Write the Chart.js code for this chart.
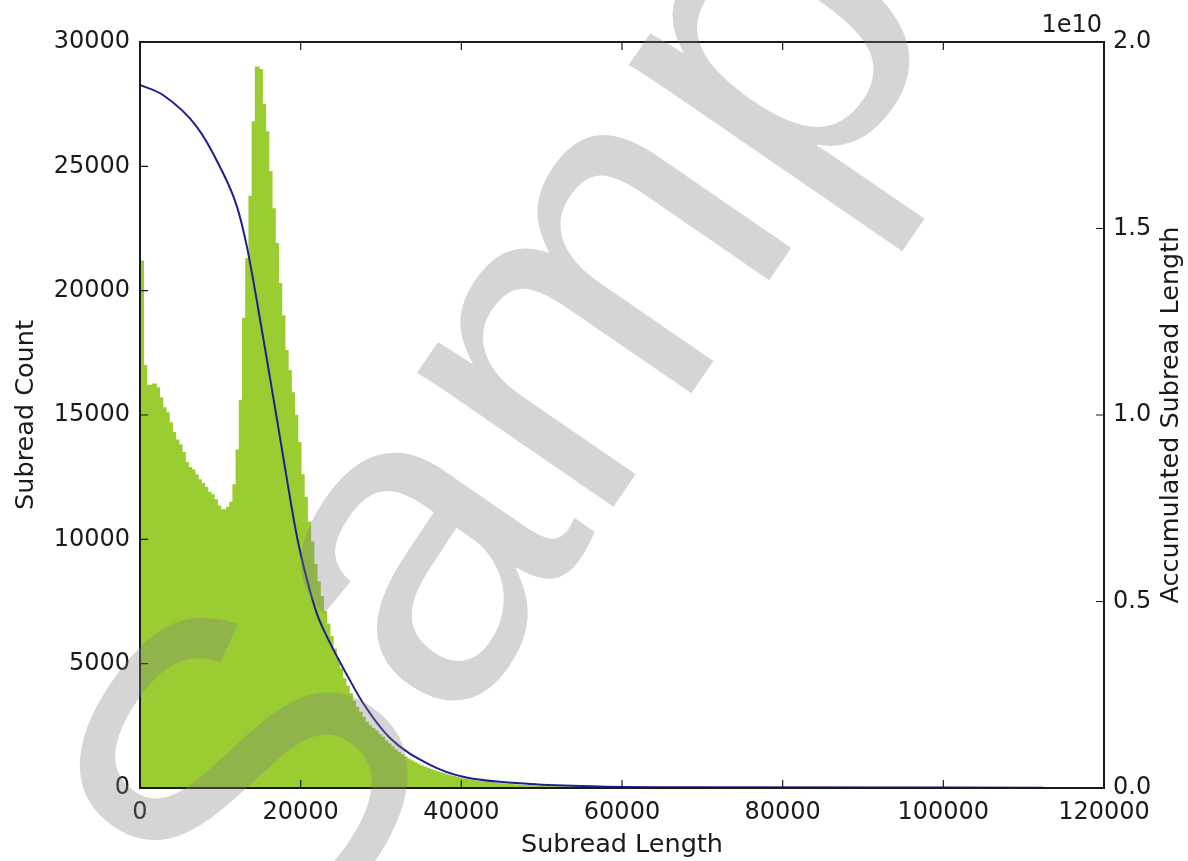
<!DOCTYPE html>
<html>
<head>
<meta charset="utf-8">
<script src="https://cdn.jsdelivr.net/npm/chart.js@4.4.0/dist/chart.umd.min.js"></script>
<style>
  html, body { margin: 0; padding: 0; background: #fff; }
  #wrap { width: 1188px; height: 861px; }
</style>
</head>
<body>
<div id="wrap"><canvas id="chart" width="1188" height="861"></canvas></div>
<script>
// histogram bins are 400 wide, starting at 0
const binWidth = 400;
const subreadCounts = [
  21200, 17000, 16200, 16200, 16250, 16100, 15700, 15300, 15100, 14700,
  14300, 14000, 13800, 13500, 13100, 12900, 12800, 12600, 12400, 12250,
  12100, 11900, 11800, 11600, 11350, 11200, 11200, 11300, 11500, 12200,
  13600, 15600, 18900, 21300, 23800, 26800, 29000, 28900, 27500, 26400,
  24800, 23300, 21900, 20300, 19000, 17600, 16800, 15900, 15000, 13900,
  12600, 11700, 10700, 9900, 9000, 8300, 7700, 7100, 6600, 6100,
  5600, 5200, 4800, 4400, 4100, 3800, 3500, 3250, 3050, 2850,
  2650, 2500, 2400, 2300, 2150, 2050, 1900, 1780, 1660, 1540,
  1430, 1340, 1250, 1170, 1100, 1030, 960, 900, 850, 800,
  750, 700, 660, 620, 580, 540, 500, 470, 440, 410,
  380, 355, 330, 310, 290, 270, 255, 240, 225, 210,
  195, 185, 172, 160, 150, 140, 132, 124, 116, 108,
  100, 94, 88, 82, 76, 70, 66, 62, 58, 54,
  50, 47, 44, 41, 38, 36, 34, 32, 30, 28,
  26, 24, 22, 20, 19, 18, 17, 16, 15, 14
];

// accumulated subread length (right axis)
const lengthPoints = [0, 2860, 7100, 9960, 12080, 13320, 14570, 15810, 17060, 18300,
  19550, 20790, 22040, 23650, 25770, 27760, 31120, 36110, 40220, 48550, 57260, 69700, 112500];
const accumulated = [1.885e10, 1.858e10, 1.772e10, 1.665e10, 1.558e10, 1.450e10, 1.303e10, 1.147e10, 0.987e10, 0.826e10,
  0.673e10, 0.558e10, 0.466e10, 0.389e10, 0.303e10, 0.228e10, 0.134e10, 0.062e10, 0.030e10, 0.011e10, 0.0043e10, 0.0021e10, 0.001e10];

const xTicks = [0, 20000, 40000, 60000, 80000, 100000, 120000];
const countTicks = [0, 5000, 10000, 15000, 20000, 25000, 30000];
const accTicks = [0, 0.5e10, 1.0e10, 1.5e10, 2.0e10];

const FONT = "'DejaVu Sans', sans-serif";
const INK = '#1a1a1a';

const histData = subreadCounts.map((c, i) => ({ x: i * binWidth + binWidth / 2, y: c }));
const lineData = lengthPoints.map((x, i) => ({ x: x, y: accumulated[i] }));

// matplotlib-ish frame, inward ticks, right label, offset text, watermark
const decorations = {
  id: 'decorations',
  afterDraw(chart) {
    const ctx = chart.ctx;
    const a = chart.chartArea;
    const xs = chart.scales.x, y = chart.scales.y, y2 = chart.scales.y2;
    const tl = 8;
    ctx.save();
    ctx.strokeStyle = INK;
    ctx.lineWidth = 1.2;
    ctx.beginPath();
    xTicks.forEach(v => {
      const px = xs.getPixelForValue(v);
      ctx.moveTo(px, a.bottom); ctx.lineTo(px, a.bottom - tl);
      ctx.moveTo(px, a.top); ctx.lineTo(px, a.top + tl);
    });
    countTicks.forEach(v => {
      const py = y.getPixelForValue(v);
      ctx.moveTo(a.left, py); ctx.lineTo(a.left + tl, py);
    });
    accTicks.forEach(v => {
      const py = y2.getPixelForValue(v);
      ctx.moveTo(a.right, py); ctx.lineTo(a.right - tl, py);
    });
    ctx.stroke();

    ctx.lineWidth = 2;
    ctx.strokeRect(a.left, a.top, a.right - a.left, a.bottom - a.top);

    ctx.fillStyle = INK;
    ctx.font = '24px ' + FONT;
    ctx.textAlign = 'right';
    ctx.textBaseline = 'bottom';
    ctx.fillText('1e10', a.right - 2, a.top - 4);

    ctx.save();
    ctx.font = '25.5px ' + FONT;
    ctx.translate(1171, (a.top + a.bottom) / 2);
    ctx.rotate(-Math.PI / 2);
    ctx.textAlign = 'center';
    ctx.textBaseline = 'middle';
    ctx.fillText('Accumulated Subread Length', 0, 0);
    ctx.restore();

    // watermark
    ctx.save();
    ctx.translate(284, 986);
    ctx.rotate(-55.5 * Math.PI / 180);
    ctx.font = "450px 'Liberation Sans', Arial, sans-serif";
    ctx.textAlign = 'left';
    ctx.textBaseline = 'alphabetic';
    ctx.fillStyle = 'rgba(128,128,128,0.33)';
    ctx.fillText('Sample', 0, 0);
    ctx.restore();

    ctx.restore();
  }
};

new Chart(document.getElementById('chart'), {
  type: 'bar',
  data: {
    datasets: [{
      type: 'line',
      label: 'Accumulated Subread Length',
      data: lineData,
      yAxisID: 'y2',
      borderColor: '#1f1f90',
      borderWidth: 2,
      pointRadius: 0,
      cubicInterpolationMode: 'monotone',
      fill: false
    }, {
      type: 'bar',
      label: 'Subread Count',
      data: histData,
      yAxisID: 'y',
      backgroundColor: '#9acd32',
      borderWidth: 0,
      barThickness: 4.2
    }]
  },
  options: {
    responsive: false,
    animation: false,
    layout: { padding: { top: 42, left: 0, right: 0, bottom: 0 } },
    plugins: { legend: { display: false }, tooltip: { enabled: false } },
    scales: {
      x: {
        type: 'linear',
        min: 0, max: 120000,
        offset: false,
        grid: { display: false, drawTicks: false },
        border: { display: false },
        afterFit: s => { s.height = 73; },
        ticks: {
          stepSize: 20000, padding: 10, color: INK, maxRotation: 0,
          font: { family: FONT, size: 24 },
          callback: v => String(v)
        },
        title: { display: true, text: 'Subread Length', color: INK, padding: 0, font: { family: FONT, size: 25.5 } }
      },
      y: {
        position: 'left',
        min: 0, max: 30000,
        grid: { display: false, drawTicks: false },
        border: { display: false },
        afterFit: s => { s.width = 140; },
        ticks: {
          stepSize: 5000, padding: 10, color: INK,
          font: { family: FONT, size: 24 },
          callback: v => String(v)
        },
        title: { display: true, text: 'Subread Count', color: INK, padding: 11, font: { family: FONT, size: 25.5 } }
      },
      y2: {
        position: 'right',
        min: 0, max: 2e10,
        grid: { display: false, drawTicks: false },
        border: { display: false },
        afterFit: s => { s.width = 84; },
        ticks: {
          stepSize: 0.5e10, padding: 9, color: INK,
          font: { family: FONT, size: 24 },
          callback: v => (v / 1e10).toFixed(1)
        }
      }
    }
  },
  plugins: [decorations]
});
</script>
</body>
</html>
